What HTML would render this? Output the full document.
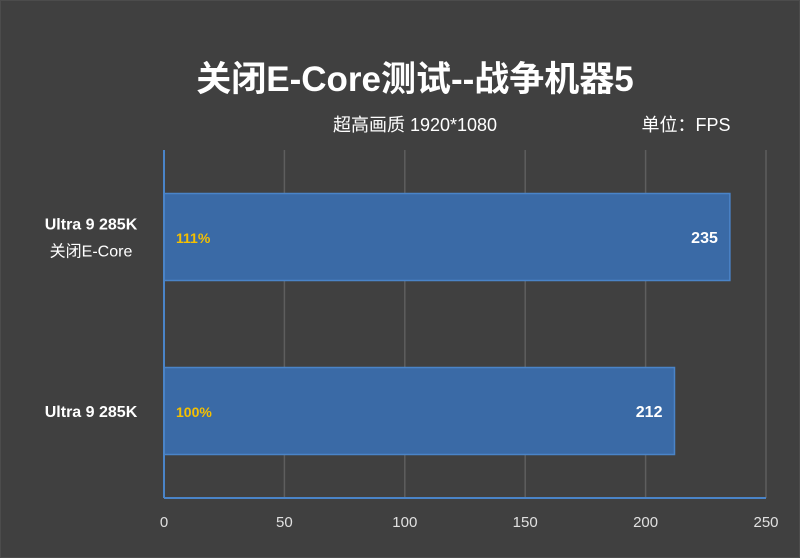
<!DOCTYPE html>
<html><head><meta charset="utf-8"><style>
body{margin:0;background:#404040;}
svg{display:block;font-family:"Liberation Sans","Noto Sans CJK SC",sans-serif;}
</style></head><body>
<svg id="chart" width="800" height="558">
<rect x="0.5" y="0.5" width="799" height="557" fill="#404040" stroke="#4c4c4c"/>
<text x="415" y="91" text-anchor="middle" fill="#fff" font-size="35" font-weight="bold">关闭E-Core测试--战争机器5</text>
<text x="415" y="131" text-anchor="middle" fill="#fff" font-size="18">超高画质 1920*1080</text>
<text x="686" y="131" text-anchor="middle" fill="#fff" font-size="18">单位：FPS</text>
<g id="grid"></g><g id="bars"></g><g id="axes"></g>
</svg>
<script>
const categories=["Ultra 9 285K|关闭E-Core","Ultra 9 285K"];
const values=[235,212];
const percents=["111%","100%"];
const ticks=[0,50,100,150,200,250];
const NS="http://www.w3.org/2000/svg";
const x0=164,x1=766,yTop=150,yBot=498;
const xs=v=>x0+(v-0)/(250-0)*(x1-x0);
const bandTop=yTop,bandH=(yBot-yTop)/categories.length;
function mk(t,a,p){const e=document.createElementNS(NS,t);for(const k in a)e.setAttribute(k,a[k]);p.appendChild(e);return e;}
const grid=document.getElementById('grid'),bars=document.getElementById('bars'),axes=document.getElementById('axes');
ticks.forEach(t=>{
  if(t>0){const l=mk('line',{x1:xs(t),x2:xs(t),y1:yTop,y2:yBot,stroke:'#5e5e5e','stroke-width':1.5},grid);
  
  }
  const tx=mk('text',{x:xs(t),y:527,'text-anchor':'middle',fill:'#e0e0e0','font-size':15},axes);tx.textContent=t;
  
  
});
categories.forEach((c,i)=>{
  const yc=bandTop+bandH*(i+0.5);const h=bandH*0.5;
  const r=mk('rect',{x:xs(0),y:yc-h/2,width:xs(values[i])-xs(0),height:h,fill:'#3a6aa6',stroke:'#4a84c8','stroke-width':1.5},bars);
  
  
  const v=mk('text',{x:xs(values[i])-12,y:yc+6,'text-anchor':'end',fill:'#fff','font-size':16,'font-weight':'bold'},bars);v.textContent=values[i];
  
  
  const p=mk('text',{x:176,y:yc+6,fill:'#f5c000','font-size':14,'font-weight':'bold'},bars);p.textContent=percents[i];
  
  
  const parts=c.split('|');
  const g=mk('text',{'text-anchor':'middle',fill:'#fff','font-size':16,'font-weight':'bold'},axes);
  
  
  parts.forEach((s,j)=>{const ts=mk('tspan',{x:91,y:yc+6+(j-(parts.length-1)/2)*27},g);ts.textContent=s;if(j>0){ts.setAttribute('font-size','16');ts.setAttribute('font-weight','normal');}});
});
const ya=mk('line',{x1:x0,x2:x0,y1:yTop,y2:yBot,stroke:'#4a84c8','stroke-width':2},axes);


const xa=mk('line',{x1:x0,x2:x1,y1:yBot,y2:yBot,stroke:'#4a84c8','stroke-width':2},axes);


</script>
</body></html>
